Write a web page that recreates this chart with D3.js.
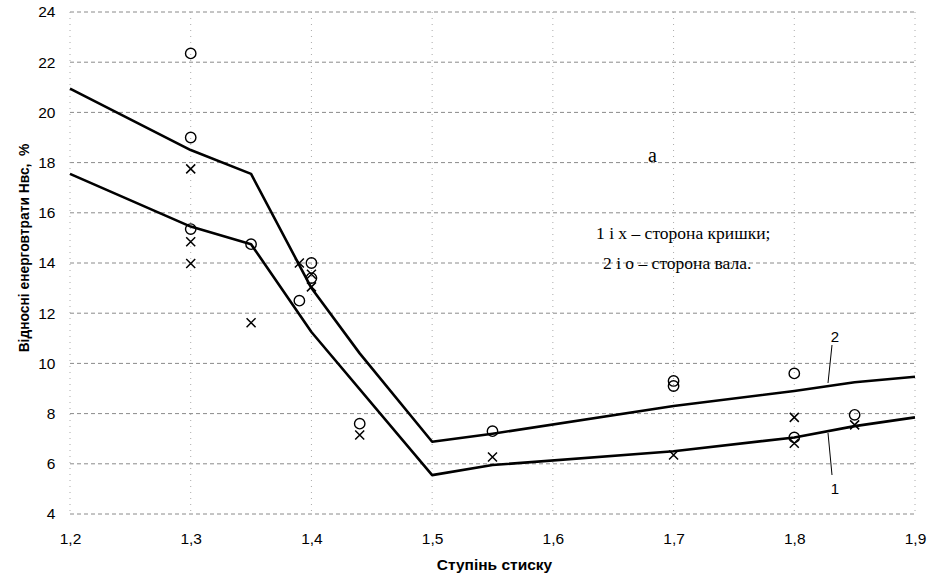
<!DOCTYPE html>
<html>
<head>
<meta charset="utf-8">
<script src="https://cdn.jsdelivr.net/npm/d3@7"></script>
<style>
  body { margin: 0; background: #fff; }
  svg { display: block; }
  .tick text { font-family: "Liberation Sans", Arial, sans-serif; font-size: 15.5px; fill: #000; }
</style>
</head>
<body>
<div class="chart-container"></div>
<script>
// x ticks / y ticks
const xTicks = [1.2, 1.3, 1.4, 1.5, 1.6, 1.7, 1.8, 1.9];
const yTicks = [4, 6, 8, 10, 12, 14, 16, 18, 20, 22, 24];

// curve 1 (cover side)
const line1X = [1.2, 1.3, 1.35, 1.4, 1.5, 1.55, 1.7, 1.8, 1.85, 1.9];
const line1Y = [17.55, 15.45, 14.75, 11.25, 5.55, 5.95, 6.5, 7.05, 7.5, 7.85];
// curve 2 (shaft side)
const line2X = [1.2, 1.3, 1.35, 1.4, 1.44, 1.5, 1.55, 1.7, 1.8, 1.85, 1.9];
const line2Y = [20.95, 18.5, 17.55, 13.0, 10.4, 6.88, 7.2, 8.3, 8.9, 9.25, 9.47];

// measured points: o
const circX = [1.3, 1.3, 1.3, 1.35, 1.39, 1.4, 1.4, 1.44, 1.55, 1.7, 1.7, 1.8, 1.8, 1.85];
const circY = [22.35, 19.0, 15.35, 14.75, 12.5, 14.0, 13.4, 7.6, 7.3, 9.3, 9.1, 9.6, 7.05, 7.95];
// measured points: x
const crossX = [1.3, 1.3, 1.3, 1.35, 1.39, 1.4, 1.4, 1.44, 1.55, 1.7, 1.8, 1.8, 1.85];
const crossY = [17.75, 14.85, 13.98, 11.62, 14.0, 13.55, 13.05, 7.15, 6.27, 6.35, 7.85, 6.82, 7.55];

const width = 936;
const height = 577;
const margin = { top: 12, right: 21, bottom: 63, left: 70 };
const chart_width = width - margin.left - margin.right;
const chart_height = height - margin.top - margin.bottom;

const svg = d3.select('.chart-container').append('svg')
  .attr('width', width).attr('height', height)
  .append('g')
  .attr('transform', `translate(${margin.left},${margin.top})`);

const xScale = d3.scaleLinear().domain([1.2, 1.9]).range([0, chart_width]);
const yScale = d3.scaleLinear().domain([4, 24]).range([chart_height, 0]);

// grid
svg.append('g').selectAll('line').data(yTicks).join('line')
  .attr('x1', 0).attr('x2', chart_width)
  .attr('y1', d => yScale(d)).attr('y2', d => yScale(d))
  .attr('stroke', '#8a8a8a').attr('stroke-width', 1)
  .attr('stroke-dasharray', '4,3');
svg.append('g').selectAll('line').data(xTicks).join('line')
  .attr('y1', 0).attr('y2', chart_height)
  .attr('x1', d => xScale(d)).attr('x2', d => xScale(d))
  .attr('stroke', '#aaa').attr('stroke-width', 1)
  .attr('stroke-dasharray', '1,5');

// axes (labels only)
const xAxis = d3.axisBottom(xScale).tickValues(xTicks).tickSize(0)
  .tickFormat(d => d.toFixed(1).replace('.', ','));
const xAxisDraw = svg.append('g').attr('transform', `translate(0,${chart_height})`).call(xAxis);
xAxisDraw.select('.domain').remove();
xAxisDraw.selectAll('text').attr('dy', '1.75em');

const yAxis = d3.axisLeft(yScale).tickValues(yTicks).tickSize(0);
const yAxisDraw = svg.append('g').call(yAxis);
yAxisDraw.select('.domain').remove();
yAxisDraw.selectAll('text').attr('dx', '-0.75em');

// curves
const line = d3.line().x(d => xScale(d[0])).y(d => yScale(d[1]));
[[line1X, line1Y], [line2X, line2Y]].forEach(([xs, ys]) => {
  svg.append('path')
    .datum(xs.map((x, i) => [x, ys[i]]))
    .attr('d', line)
    .attr('fill', 'none')
    .attr('stroke', '#000')
    .attr('stroke-width', 2.6)
    .attr('stroke-linejoin', 'round');
});

// markers
svg.append('g').selectAll('circle').data(circX.map((x, i) => [x, circY[i]])).join('circle')
  .attr('cx', d => xScale(d[0])).attr('cy', d => yScale(d[1]))
  .attr('r', 5.2).attr('fill', 'none').attr('stroke', '#000').attr('stroke-width', 1.4);

const cs = 4.5;
svg.append('g').selectAll('path').data(crossX.map((x, i) => [x, crossY[i]])).join('path')
  .attr('d', d => {
    const cx = xScale(d[0]), cy = yScale(d[1]);
    return `M${cx - cs},${cy - cs}L${cx + cs},${cy + cs}M${cx - cs},${cy + cs}L${cx + cs},${cy - cs}`;
  })
  .attr('stroke', '#000').attr('stroke-width', 1.5).attr('fill', 'none');

// curve number labels with leaders
svg.append('line').attr('x1', 762).attr('y1', 333).attr('x2', 758).attr('y2', 371)
  .attr('stroke', '#000').attr('stroke-width', 1);
svg.append('text').attr('x', 765).attr('y', 330).text('2')
  .style('font-family', '"Liberation Sans", Arial, sans-serif').style('font-size', '15px')
  .attr('text-anchor', 'middle');
svg.append('line').attr('x1', 758).attr('y1', 421).attr('x2', 762).attr('y2', 463)
  .attr('stroke', '#000').attr('stroke-width', 1);
svg.append('text').attr('x', 765).attr('y', 482).text('1')
  .style('font-family', '"Liberation Sans", Arial, sans-serif').style('font-size', '15px')
  .attr('text-anchor', 'middle');

// annotations
const serif = '"Liberation Serif", "Times New Roman", serif';
svg.append('text').attr('x', 578).attr('y', 150).text('a')
  .style('font-family', serif).style('font-size', '20px');
svg.append('text').attr('x', 526).attr('y', 227).text('1 і х – сторона кришки;')
  .style('font-family', serif).style('font-size', '17.5px');
svg.append('text').attr('x', 533).attr('y', 257).text('2 і о – сторона вала.')
  .style('font-family', serif).style('font-size', '17.5px');

// axis titles
svg.append('text')
  .attr('x', chart_width / 2 + 2).attr('y', chart_height + 56)
  .attr('text-anchor', 'middle')
  .style('font-family', '"Liberation Sans", Arial, sans-serif')
  .style('font-size', '15.5px').style('font-weight', 'bold')
  .text('Ступінь стиску');
svg.append('text')
  .attr('transform', `translate(${-41},${236}) rotate(-90)`)
  .attr('text-anchor', 'middle')
  .style('font-family', '"Liberation Sans", Arial, sans-serif')
  .style('font-size', '13.8px').style('font-weight', 'bold')
  .text('Відносні енерговтрати Нвс,\u00a0\u00a0%');
</script>
</body>
</html>
